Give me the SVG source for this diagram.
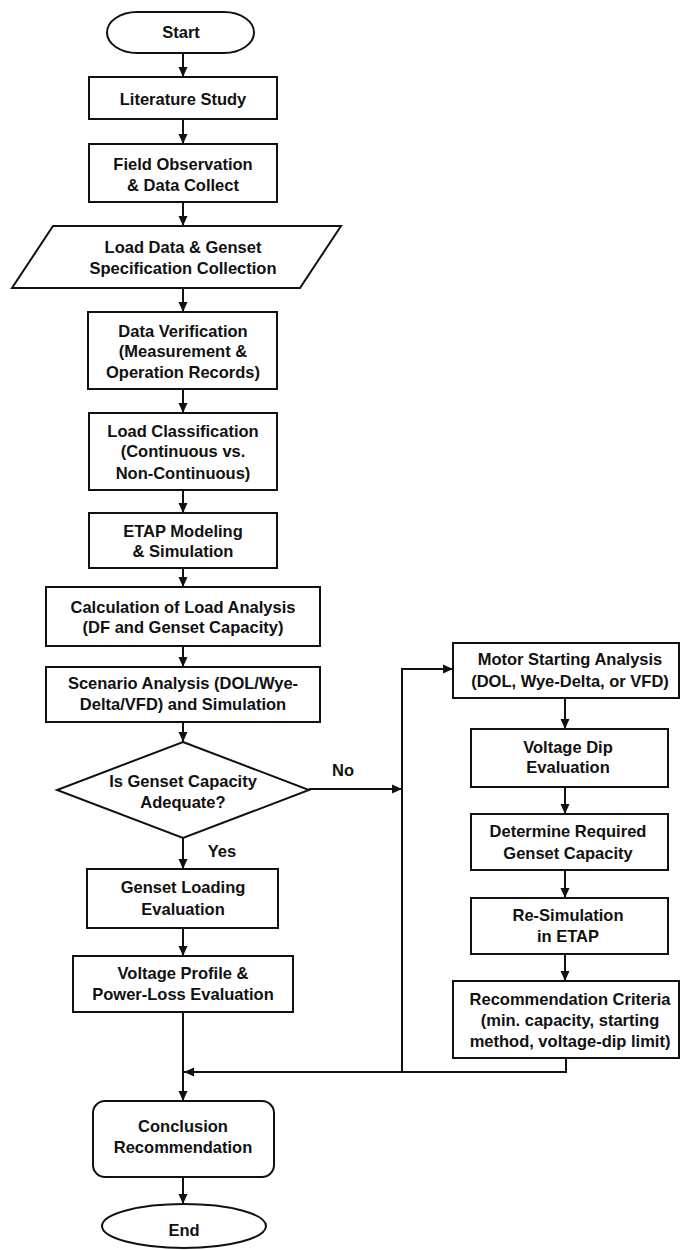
<svg xmlns="http://www.w3.org/2000/svg" width="681" height="1250" viewBox="0 0 681 1250">
<defs>
<marker id="arr" markerUnits="userSpaceOnUse" markerWidth="10" markerHeight="10" refX="10" refY="5" orient="auto">
<path d="M0,0.5 L10,5 L0,9.5 z" fill="#111"/>
</marker>
<style>
.s{fill:#fff;stroke:#111;stroke-width:2}
.t{font-family:"Liberation Sans",Arial,sans-serif;font-weight:bold;font-size:16.5px;fill:#111;text-anchor:middle}
.c{fill:none;stroke:#111;stroke-width:2}
</style>
</defs>
<rect width="681" height="1250" fill="#fff"/>
<g id="connectors">
<path class="c" marker-end="url(#arr)" d="M183,53 V77"/>
<path class="c" marker-end="url(#arr)" d="M183,119 V144"/>
<path class="c" marker-end="url(#arr)" d="M183,202 V226"/>
<path class="c" marker-end="url(#arr)" d="M183,288 V312"/>
<path class="c" marker-end="url(#arr)" d="M183,389 V413"/>
<path class="c" marker-end="url(#arr)" d="M183,490 V513"/>
<path class="c" marker-end="url(#arr)" d="M183,568 V587"/>
<path class="c" marker-end="url(#arr)" d="M183,646 V667"/>
<path class="c" marker-end="url(#arr)" d="M183,722 V742"/>
<path class="c" marker-end="url(#arr)" d="M183,838 V869"/>
<path class="c" marker-end="url(#arr)" d="M183,928 V956"/>
<path class="c" marker-end="url(#arr)" d="M183,1012 V1101"/>
<path class="c" marker-end="url(#arr)" d="M183,1177 V1204"/>
<path class="c" marker-end="url(#arr)" d="M309,789 H402"/>
<path class="c" marker-end="url(#arr)" d="M402,1072 V669 H453"/>
<path class="c" marker-end="url(#arr)" d="M565,698 V729"/>
<path class="c" marker-end="url(#arr)" d="M565,787 V814"/>
<path class="c" marker-end="url(#arr)" d="M565,870 V898"/>
<path class="c" marker-end="url(#arr)" d="M565,954 V981"/>
<path class="c" marker-end="url(#arr)" d="M566,1058 V1072 H184"/>
<text class="t" x="343" y="776">No</text>
<text class="t" x="222" y="857">Yes</text>
</g>
<g id="start">
<rect class="s" x="107" y="12" width="147" height="41" rx="30" ry="20.5"/>
<text class="t" x="181" y="38">Start</text>
</g>
<g id="literature">
<rect class="s" x="89" y="77" width="188" height="42"/>
<text class="t" x="183" y="105">Literature Study</text>
</g>
<g id="field">
<rect class="s" x="89" y="144" width="188" height="58"/>
<text class="t" x="183" y="170">Field Observation</text>
<text class="t" x="183" y="191">&amp; Data Collect</text>
</g>
<g id="loaddata">
<polygon class="s" points="53,226 341,226 300,288 12,288"/>
<text class="t" x="183" y="253">Load Data &amp; Genset</text>
<text class="t" x="183" y="274">Specification Collection</text>
</g>
<g id="verification">
<rect class="s" x="88" y="312" width="189" height="77"/>
<text class="t" x="183" y="337">Data Verification</text>
<text class="t" x="183" y="357">(Measurement &amp;</text>
<text class="t" x="183" y="378">Operation Records)</text>
</g>
<g id="classification">
<rect class="s" x="89" y="413" width="188" height="77"/>
<text class="t" x="183" y="437">Load Classification</text>
<text class="t" x="183" y="457">(Continuous vs.</text>
<text class="t" x="183" y="479">Non-Continuous)</text>
</g>
<g id="etap">
<rect class="s" x="89" y="513" width="188" height="55"/>
<text class="t" x="183" y="537">ETAP Modeling</text>
<text class="t" x="183" y="557">&amp; Simulation</text>
</g>
<g id="calculation">
<rect class="s" x="46" y="587" width="274" height="59"/>
<text class="t" x="183" y="613">Calculation of Load Analysis</text>
<text class="t" x="183" y="633">(DF and Genset Capacity)</text>
</g>
<g id="scenario">
<rect class="s" x="46" y="667" width="274" height="55"/>
<text class="t" x="183" y="689">Scenario Analysis (DOL/Wye-</text>
<text class="t" x="183" y="710">Delta/VFD) and Simulation</text>
</g>
<g id="decision">
<polygon class="s" points="183,742 309,790 183,838 57,790"/>
<text class="t" x="183" y="787">Is Genset Capacity</text>
<text class="t" x="183" y="808">Adequate?</text>
</g>
<g id="loading">
<rect class="s" x="87" y="869" width="191" height="59"/>
<text class="t" x="183" y="893">Genset Loading</text>
<text class="t" x="183" y="915">Evaluation</text>
</g>
<g id="profile">
<rect class="s" x="73" y="956" width="220" height="56"/>
<text class="t" x="183" y="979">Voltage Profile &amp;</text>
<text class="t" x="183" y="1000">Power-Loss Evaluation</text>
</g>
<g id="conclusion">
<rect class="s" x="93" y="1101" width="181" height="76" rx="12"/>
<text class="t" x="183" y="1132">Conclusion</text>
<text class="t" x="183" y="1153">Recommendation</text>
</g>
<g id="end">
<ellipse class="s" cx="184" cy="1226" rx="82" ry="22"/>
<text class="t" x="184" y="1236">End</text>
</g>
<g id="motor">
<rect class="s" x="453" y="643" width="226" height="55"/>
<text class="t" x="570" y="665">Motor Starting Analysis</text>
<text class="t" x="570" y="687">(DOL, Wye-Delta, or VFD)</text>
</g>
<g id="voltagedip">
<rect class="s" x="471" y="729" width="197" height="58"/>
<text class="t" x="568" y="753">Voltage Dip</text>
<text class="t" x="568" y="773">Evaluation</text>
</g>
<g id="determine">
<rect class="s" x="471" y="814" width="197" height="56"/>
<text class="t" x="568" y="837">Determine Required</text>
<text class="t" x="568" y="859">Genset Capacity</text>
</g>
<g id="resim">
<rect class="s" x="471" y="898" width="197" height="56"/>
<text class="t" x="568" y="921">Re-Simulation</text>
<text class="t" x="568" y="942">in ETAP</text>
</g>
<g id="criteria">
<rect class="s" x="453" y="981" width="226" height="77"/>
<text class="t" x="570" y="1005">Recommendation Criteria</text>
<text class="t" x="570" y="1026">(min. capacity, starting</text>
<text class="t" x="570" y="1047">method, voltage-dip limit)</text>
</g>
</svg>
